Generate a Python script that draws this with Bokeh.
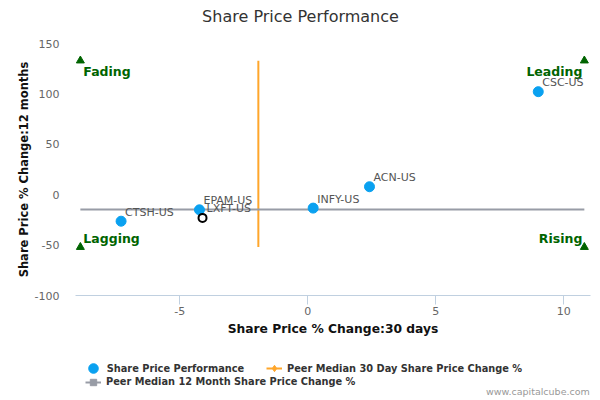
from bokeh.plotting import figure
from bokeh.layouts import column
from bokeh.models import (ColumnDataSource, Label, Legend, LegendItem, Range1d, FixedTicker,
                          PrintfTickFormatter)
from bokeh.core.properties import value
from bokeh.embed import file_html
from bokeh.resources import INLINE

# ---- data ----
tickers = ["CTSH-US", "EPAM-US", "INFY-US", "ACN-US", "CSC-US"]
chg_30d = [-7.29, -4.23, 0.21, 2.41, 9.00]
chg_12m = [-26.3, -15.0, -13.3, 7.9, 102.2]

subject = ["LXFT-US"]
subject_30d = [-4.11]
subject_12m = [-23.0]

peer_median_30d = -1.93
peer_median_12m = -14.6

quad_names = ["Fading", "Leading", "Lagging", "Rising"]
quad_x = [-8.88, 10.8, -8.88, 10.8]
quad_y = [133.0, 133.0, -52.0, -52.0]

x_ticks = [-5, 0, 5, 10]
y_ticks = [-100, -50, 0, 50, 100, 150]

# ---- style ----
FONT = "DejaVu Sans"
BLUE = "#0aa1f0"
ORANGE = "#ffa62b"
GRAY = "#989ca6"
GREEN = "#006400"
AXIS = "#c0d0e0"
NAN = float("nan")


def bare_fig(h):
    f = figure(width=600, height=h, x_range=Range1d(0, 1), y_range=Range1d(0, 1),
               x_axis_type=None, y_axis_type=None, output_backend="svg",
               toolbar_location=None, title=None, min_border=0,
               min_border_left=0, min_border_right=0, min_border_top=0, min_border_bottom=0)
    f.outline_line_color = None
    f.background_fill_color = "white"
    f.border_fill_color = "white"
    return f


# ---- title strip (frame is aligned with the chart frame, x measured from 75px) ----
top = bare_fig(33)
top.add_layout(Label(x=225, y=17, x_units="screen", y_units="screen",
                     text="Share Price Performance", text_align="center", text_baseline="middle",
                     text_font=FONT, text_font_size="16px", text_color="#333333"))

# ---- main chart ----
p = figure(width=600, height=312, x_range=Range1d(-9.07, 11.04), y_range=Range1d(-100, 150),
           output_backend="svg", toolbar_location=None, title=None,
           min_border_left=75, min_border_right=10, min_border_top=10, min_border_bottom=50)
p.outline_line_color = None
p.xgrid.grid_line_color = None
p.ygrid.grid_line_color = None
p.background_fill_color = "white"
p.border_fill_color = "white"

p.xaxis.ticker = FixedTicker(ticks=x_ticks)
p.yaxis.ticker = FixedTicker(ticks=y_ticks)
for ax in (p.xaxis[0], p.yaxis[0]):
    ax.formatter = PrintfTickFormatter(format="%d")
    ax.major_label_text_font = FONT
    ax.major_label_text_font_size = "11px"
    ax.major_label_text_color = "#666666"
    ax.axis_label_text_font = FONT
    ax.axis_label_text_font_style = "bold"
    ax.axis_label_text_color = "#111111"
    ax.minor_tick_line_color = None
    ax.major_tick_in = 0

p.xaxis.axis_label = "Share Price % Change:30 days"
p.xaxis.axis_label_text_font_size = "12.3px"
p.xaxis.axis_line_color = AXIS
p.xaxis.major_tick_line_color = AXIS
p.xaxis.major_tick_out = 9
p.xaxis.major_label_standoff = 2
p.xaxis.axis_label_standoff = 4

p.yaxis.axis_label = "Share Price % Change:12 months"
p.yaxis.axis_label_text_font_size = "11.5px"
p.yaxis.axis_line_color = None
p.yaxis.major_tick_line_color = None
p.yaxis.major_tick_out = 0
p.yaxis.major_label_standoff = 16
p.yaxis.axis_label_standoff = 1

# median lines
p.line(x=[peer_median_30d, peer_median_30d], y=[min(quad_y), max(quad_y)],
       line_color=ORANGE, line_width=2)
p.line(x=[min(quad_x), max(quad_x)], y=[peer_median_12m, peer_median_12m],
       line_color=GRAY, line_width=2)

# quadrant markers and names
p.scatter(x=quad_x, y=quad_y, marker="triangle", size=8, fill_color=GREEN, line_color=GREEN)
left = [i for i in range(len(quad_x)) if quad_x[i] < 0]
right = [i for i in range(len(quad_x)) if quad_x[i] >= 0]
for idx, align, xo in ((left, "left", 3), (right, "right", -2)):
    src = ColumnDataSource(dict(x=[quad_x[i] for i in idx], y=[quad_y[i] for i in idx],
                                t=[quad_names[i] for i in idx],
                                yo=[11 if quad_y[i] > 0 else -9 for i in idx]))
    p.text(x="x", y="y", text="t", source=src, x_offset=xo, y_offset="yo",
           text_align=align, text_baseline="middle", text_font=value(FONT),
           text_font_size="12.5px", text_font_style="bold", text_color=GREEN)

# points
src_pts = ColumnDataSource(dict(x=chg_30d, y=chg_12m, name=tickers))
p.scatter("x", "y", source=src_pts, size=10, fill_color=BLUE, line_color=BLUE)
src_sub = ColumnDataSource(dict(x=subject_30d, y=subject_12m, name=subject))
p.scatter("x", "y", source=src_sub, size=8, fill_color="white", line_color="black", line_width=2)
for s in (src_pts, src_sub):
    p.text(x="x", y="y", text="name", source=s, x_offset=4, y_offset=-9,
           text_align="left", text_baseline="middle", text_font=value(FONT),
           text_font_size="11px", text_color="#555555")

# ---- legend strip (frame aligned with the chart frame, x measured from 75px) ----
bot = bare_fig(55)
r_pts = bot.scatter(x=[NAN], y=[NAN], size=10, fill_color=BLUE, line_color=BLUE)
r_v = [bot.line(x=[NAN, NAN], y=[NAN, NAN], line_color=ORANGE, line_width=2),
       bot.scatter(x=[NAN], y=[NAN], marker="diamond", size=8, fill_color=ORANGE, line_color=ORANGE)]
r_h = [bot.line(x=[NAN, NAN], y=[NAN, NAN], line_color=GRAY, line_width=2),
       bot.scatter(x=[NAN], y=[NAN], marker="square", size=8, fill_color=GRAY, line_color=GRAY)]


def add_legend(label, renderers, gw, gh, standoff, loc):
    lg = Legend(items=[LegendItem(label=label, renderers=renderers)], location=loc,
                orientation="horizontal", glyph_width=gw, glyph_height=gh,
                label_standoff=standoff, label_height=0, label_width=0,
                padding=0, margin=0, spacing=0,
                border_line_color=None, background_fill_alpha=0,
                label_text_font=FONT, label_text_font_size="9.8px",
                label_text_font_style="bold", label_text_color="#333333")
    bot.add_layout(lg)


add_legend("Share Price Performance", [r_pts], 24, 24, 2, (5.7, 19.7))
add_legend("Peer Median 30 Day Share Price Change %", r_v, 16, 18, 5, (191, 22.7))
add_legend("Peer Median 12 Month Share Price Change %", r_h, 16, 16, 5, (10, 10.3))

bot.add_layout(Label(x=514.3, y=9.3, x_units="screen", y_units="screen",
                     text="www.capitalcube.com", text_align="right", text_baseline="middle",
                     text_font=FONT, text_font_size="9.5px", text_color="#999999"))

layout = column(top, p, bot, spacing=0)
open("out.html", "w").write(file_html(layout, INLINE))
